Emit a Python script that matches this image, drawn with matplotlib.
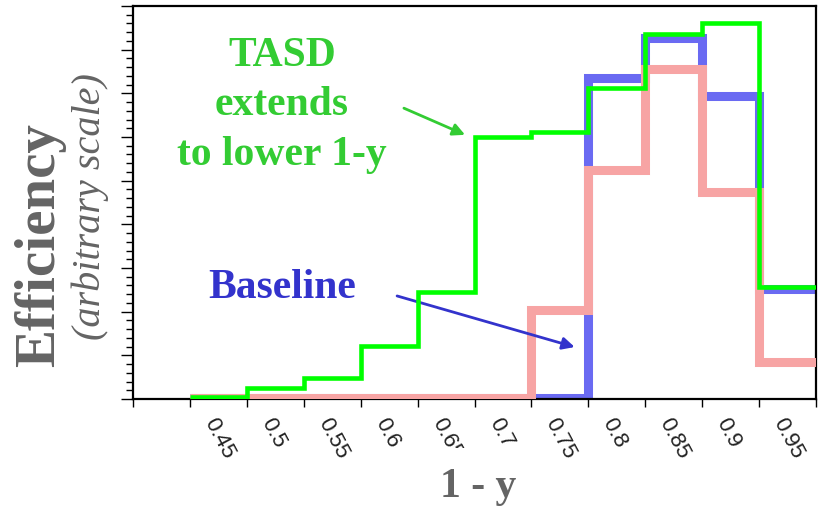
import matplotlib
matplotlib.use("Agg")
import matplotlib.pyplot as plt
import matplotlib.transforms as mtransforms
import numpy as np

# bin edges in 1-y
edges = [0.45, 0.50, 0.55, 0.60, 0.65, 0.70, 0.75, 0.80, 0.85, 0.90, 0.95, 1.00]
# efficiency per bin (arbitrary scale)
tasd = [0.04, 0.25, 0.48, 1.22, 2.45, 6.00, 6.12, 7.13, 8.35, 8.60, 2.57]
baseline = [0.03, 0.03, 0.03, 0.03, 0.03, 0.03, 0.03, 7.34, 8.26, 6.93, 2.52]
other = [0.03, 0.03, 0.03, 0.03, 0.03, 0.03, 2.04, 5.25, 7.55, 4.75, 0.85]

xticks = [0.40, 0.45, 0.50, 0.55, 0.60, 0.65, 0.70, 0.75, 0.80, 0.85, 0.90, 0.95, 1.00]
xticklabels = ["", "0.45", "0.5", "0.55", "0.6", "0.65", "0.7", "0.75", "0.8", "0.85", "0.9", "0.95", ""]

serif = "Liberation Serif"
gray = "#646464"
green_txt = "#33cc33"
blue_txt = "#3333cc"

fig = plt.figure(figsize=(8.18, 5.07), dpi=100)
ax = fig.add_axes([133/818, 108/507, 683/818, 393/507])

ax.stairs(baseline, edges, baseline=None, color="#6a6af2", lw=6.5, zorder=2)
ax.stairs(other, edges, baseline=None, color="#f7a4a4", lw=6.5, zorder=3)
ax.stairs(tasd, edges, baseline=None, color="#00ff00", lw=3.3, zorder=4)

ax.set_xlim(0.40, 1.00)
ax.set_ylim(0, 9)

for s in ax.spines.values():
    s.set_linewidth(1.6)
    s.set_color("black")

ax.set_xticks(xticks)
ax.set_xticklabels(xticklabels, rotation=-62, ha="left", va="center",
                   rotation_mode="anchor", fontsize=16, family="Liberation Sans",
                   color="#222222")
ax.tick_params(axis="x", direction="out", length=6, width=1, pad=9)
off = mtransforms.ScaledTranslation(0.19, 0, fig.dpi_scale_trans)
for lab in ax.get_xticklabels():
    lab.set_transform(lab.get_transform() + off)

ax.set_yticks(np.arange(0, 9.01, 1))
ax.set_yticks(np.arange(0, 9.01, 0.2), minor=True)
ax.set_yticklabels([])
ax.tick_params(axis="y", which="major", direction="out", length=9, width=1)
ax.tick_params(axis="y", which="minor", direction="out", length=5, width=1)

# annotations
ax.text(0.531, 5.36, "TASD\nextends\nto lower 1-y", ha="center", va="baseline",
        multialignment="center", linespacing=1.4, fontsize=30,
        family=serif, weight="bold", color=green_txt)
ax.annotate("", xy=(0.6917, 6.05), xytext=(0.638, 6.66),
            arrowprops=dict(arrowstyle="-|>", color=green_txt, lw=2,
                            mutation_scale=18, shrinkA=0, shrinkB=0))
ax.text(0.531, 2.31, "Baseline", ha="center", va="baseline", fontsize=30,
        family=serif, weight="bold", color=blue_txt)
ax.annotate("", xy=(0.788, 1.19), xytext=(0.632, 2.36),
            arrowprops=dict(arrowstyle="-|>", color=blue_txt, lw=2,
                            mutation_scale=18, shrinkA=0, shrinkB=0))

# axis titles
fig.text(40/818, 1 - 245/507, "Efficiency", rotation=90, ha="center", va="center",
         fontsize=41, family=serif, weight="bold", color=gray)
fig.text(90/818, 1 - 207/507, "(arbitrary scale)", rotation=90, ha="center", va="center",
         fontsize=29, family=serif, style="italic", color=gray)
fig.text(478/818, 10/507, "1 - y", ha="center", va="baseline",
         fontsize=30, family=serif, weight="bold", color=gray, zorder=5,
         bbox=dict(facecolor="white", edgecolor="none", pad=14))

fig.savefig("out.png", dpi=100)
